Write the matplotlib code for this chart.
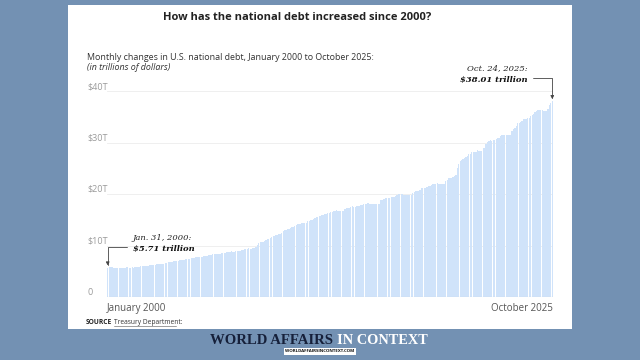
import matplotlib.pyplot as plt
from matplotlib.patches import Rectangle

# total public debt outstanding, trillions of dollars, one value per month
debt_2000 = [5.71, 5.74, 5.77, 5.77, 5.65, 5.69, 5.68, 5.68, 5.67, 5.66, 5.71, 5.66]
debt_2001 = [5.72, 5.73, 5.77, 5.66, 5.66, 5.73, 5.72, 5.76, 5.81, 5.82, 5.89, 5.94]
debt_2002 = [5.94, 5.99, 6.01, 5.98, 6.02, 6.13, 6.16, 6.21, 6.23, 6.28, 6.34, 6.41]
debt_2003 = [6.40, 6.44, 6.46, 6.46, 6.56, 6.67, 6.76, 6.78, 6.78, 6.87, 6.93, 7.00]
debt_2004 = [7.01, 7.08, 7.13, 7.14, 7.21, 7.27, 7.29, 7.36, 7.38, 7.43, 7.53, 7.60]
debt_2005 = [7.63, 7.71, 7.78, 7.77, 7.78, 7.84, 7.86, 7.93, 7.93, 8.03, 8.09, 8.17]
debt_2006 = [8.19, 8.27, 8.37, 8.35, 8.36, 8.42, 8.44, 8.50, 8.51, 8.59, 8.63, 8.68]
debt_2007 = [8.71, 8.79, 8.85, 8.83, 8.82, 8.87, 8.93, 8.99, 9.01, 9.08, 9.14, 9.23]
debt_2008 = [9.24, 9.31, 9.44, 9.36, 9.36, 9.49, 9.59, 9.64, 10.02, 10.57, 10.66, 10.70]
debt_2009 = [10.63, 10.88, 11.13, 11.24, 11.35, 11.55, 11.66, 11.81, 11.91, 11.95, 12.08, 12.31]
debt_2010 = [12.28, 12.44, 12.77, 12.95, 13.05, 13.20, 13.23, 13.43, 13.56, 13.67, 13.86, 14.03]
debt_2011 = [14.13, 14.20, 14.27, 14.29, 14.34, 14.34, 14.34, 14.68, 14.79, 14.94, 15.03, 15.22]
debt_2012 = [15.36, 15.48, 15.58, 15.69, 15.72, 15.86, 15.93, 16.02, 16.07, 16.26, 16.37, 16.43]
debt_2013 = [16.43, 16.69, 16.77, 16.83, 16.74, 16.74, 16.74, 16.74, 16.74, 17.16, 17.22, 17.35]
debt_2014 = [17.29, 17.46, 17.60, 17.51, 17.52, 17.63, 17.69, 17.75, 17.82, 17.94, 18.01, 18.14]
debt_2015 = [18.08, 18.16, 18.15, 18.15, 18.15, 18.15, 18.15, 18.15, 18.15, 18.15, 18.83, 18.92]
debt_2016 = [19.01, 19.13, 19.26, 19.19, 19.24, 19.38, 19.43, 19.51, 19.57, 19.80, 19.95, 19.98]
debt_2017 = [19.94, 19.96, 19.85, 19.85, 19.85, 19.85, 19.85, 19.85, 20.24, 20.44, 20.59, 20.49]
debt_2018 = [20.49, 20.86, 21.09, 21.07, 21.15, 21.20, 21.31, 21.46, 21.52, 21.70, 21.85, 21.97]
debt_2019 = [21.98, 22.11, 22.03, 22.03, 22.03, 22.03, 22.02, 22.46, 22.72, 23.01, 23.08, 23.20]
debt_2020 = [23.22, 23.40, 23.70, 24.97, 25.75, 26.48, 26.52, 26.73, 26.95, 27.11, 27.35, 27.75]
debt_2021 = [27.78, 28.09, 28.13, 28.17, 28.24, 28.53, 28.43, 28.43, 28.43, 28.90, 28.91, 29.62]
debt_2022 = [30.01, 30.29, 30.40, 30.37, 30.47, 30.57, 30.63, 30.83, 30.93, 31.24, 31.41, 31.42]
debt_2023 = [31.42, 31.42, 31.42, 31.42, 31.46, 32.33, 32.61, 32.91, 33.17, 33.70, 33.88, 34.00]
debt_2024 = [34.19, 34.47, 34.59, 34.62, 34.67, 34.83, 35.08, 35.26, 35.46, 35.95, 36.09, 36.22]
debt_2025 = [36.22, 36.22, 36.22, 36.21, 36.21, 36.21, 36.56, 37.27, 37.64, 38.01]

debt = (debt_2000 + debt_2001 + debt_2002 + debt_2003 + debt_2004 + debt_2005
        + debt_2006 + debt_2007 + debt_2008 + debt_2009 + debt_2010 + debt_2011
        + debt_2012 + debt_2013 + debt_2014 + debt_2015 + debt_2016 + debt_2017
        + debt_2018 + debt_2019 + debt_2020 + debt_2021 + debt_2022 + debt_2023
        + debt_2024 + debt_2025)

y_ticks = [0, 10, 20, 30, 40]
y_labels = ['0', '$10T', '$20T', '$30T', '$40T']
first_label = 'January 2000'
last_label = 'October 2025'

sans = 'Open Sans'
serif = 'DejaVu Serif'

fig = plt.figure(figsize=(6.4, 3.6), dpi=100)
fig.patch.set_facecolor('#7391b3')
W, H = 640, 360

# white card behind everything
card = Rectangle((68 / W, 1 - 329 / H), (572 - 68) / W, (329 - 5) / H,
                 transform=fig.transFigure, facecolor='white', edgecolor='none', zorder=-10)
fig.add_artist(card)

ax = fig.add_axes([107 / W, 1 - 297 / H, (553 - 107) / W, (297 - 91) / H])
ax.set_facecolor('none')
x = list(range(len(debt)))
ax.bar(x, debt, width=0.88, color='#d0e3fa', linewidth=0, zorder=2)
ax.set_xlim(-0.5, len(debt) - 0.5)
ax.set_ylim(0, 40)

for s in ax.spines.values():
    s.set_visible(False)
ax.axhline(0, color='#c8c8c8', lw=0.8, zorder=3)
for t in y_ticks[1:]:
    ax.axhline(t, color='#ececec', lw=0.6, zorder=1)

ax.set_yticks(y_ticks)
ax.set_yticklabels(y_labels, fontsize=6.5, color='#9a9a9a', family=sans)
for lab in ax.get_yticklabels():
    lab.set_horizontalalignment('left')
    lab.set_verticalalignment('bottom')
ax.tick_params(axis='y', length=0, pad=14)
ax.set_xticks([])

ax.text(-0.5, -0.03, first_label, transform=ax.get_xaxis_transform(),
        ha='left', va='top', fontsize=7, color='#555555', family=sans)
ax.text(len(debt) - 0.5, -0.03, last_label, transform=ax.get_xaxis_transform(),
        ha='right', va='top', fontsize=7, color='#555555', family=sans)

# annotations
ax.annotate('', xy=(0, debt[0] + 0.4), xytext=(14, 13), textcoords='offset points',
            arrowprops=dict(arrowstyle='-|>', color='#444444', lw=0.6, mutation_scale=5,
                            shrinkA=0, shrinkB=0,
                            connectionstyle='angle,angleA=0,angleB=90,rad=0'))
ax.annotate('Jan. 31, 2000:', xy=(0, debt[0]), xytext=(18, 21.5), textcoords='offset points',
            ha='left', va='center', fontsize=6, style='italic', family=serif, color='#222222')
ax.annotate('$5.71 trillion', xy=(0, debt[0]), xytext=(18, 13.5), textcoords='offset points',
            ha='left', va='center', fontsize=6, style='italic', weight='bold',
            family=serif, color='#111111')

last = len(debt) - 1
ax.annotate('', xy=(last, debt[-1] + 0.4), xytext=(-14, 15.5), textcoords='offset points',
            arrowprops=dict(arrowstyle='-|>', color='#444444', lw=0.6, mutation_scale=5,
                            shrinkA=0, shrinkB=0,
                            connectionstyle='angle,angleA=0,angleB=90,rad=0'),
            annotation_clip=False)
ax.annotate('Oct. 24, 2025:', xy=(last, debt[-1]), xytext=(-18, 23.5), textcoords='offset points',
            ha='right', va='center', fontsize=6, style='italic', family=serif,
            color='#222222', annotation_clip=False)
ax.annotate('$38.01 trillion', xy=(last, debt[-1]), xytext=(-18, 15.5), textcoords='offset points',
            ha='right', va='center', fontsize=6, style='italic', weight='bold',
            family=serif, color='#111111', annotation_clip=False)

# titles
fig.text(297 / W, 1 - 17 / H, 'How has the national debt increased since 2000?',
         ha='center', va='center', fontsize=8, weight='bold', family=sans, color='#222222')
fig.text(87 / W, 1 - 57 / H,
         'Monthly changes in U.S. national debt, January 2000 to October 2025:',
         ha='left', va='center', fontsize=6.4, family=sans, color='#333333')
fig.text(87 / W, 1 - 68 / H, '(in trillions of dollars)', ha='left', va='center',
         fontsize=6.4, style='italic', family=sans, color='#333333')

# source
fig.text(86 / W, 1 - 323 / H, 'SOURCE', ha='left', va='center', fontsize=4.8,
         weight='bold', family=sans, color='#222222')
fig.text(114 / W, 1 - 323 / H, 'Treasury Department:', ha='left', va='center',
         fontsize=4.8, family=sans, color='#333333')
fig.add_artist(plt.Line2D([114 / W, 176 / W], [1 - 326 / H, 1 - 326 / H],
                          color='#555555', lw=0.4))

# footer branding
fig.text(333 / W, 1 - 341 / H, 'WORLD AFFAIRS', ha='right', va='center', fontsize=10.6,
         weight='bold', family='Liberation Serif', color='#16203a')
fig.text(337 / W, 1 - 341 / H, 'IN CONTEXT', ha='left', va='center', fontsize=10.4,
         weight='bold', family='Liberation Serif', color='white')
fig.text(320 / W, 1 - 351.5 / H, 'WORLDAFFAIRSINCONTEXT.COM', ha='center', va='center',
         fontsize=3.2, weight='bold', family=sans, color='#111111',
         bbox=dict(boxstyle='square,pad=0.25', facecolor='white', edgecolor='none'))

fig.savefig('out.png', dpi=100, facecolor=fig.get_facecolor())
